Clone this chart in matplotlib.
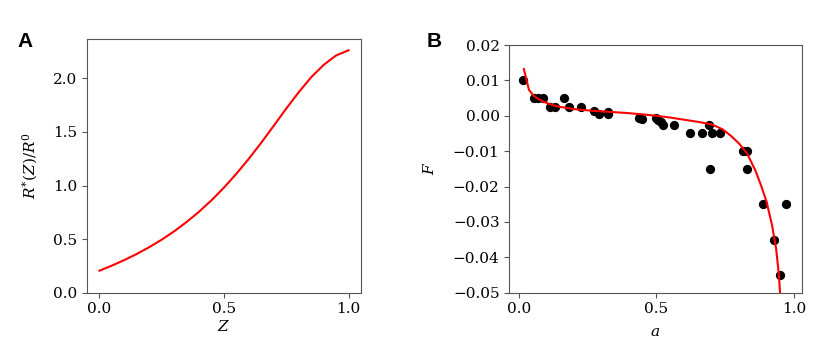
import matplotlib
matplotlib.use("Agg")
import matplotlib.pyplot as plt

# Panel A: R*(Z)/R0 curve
z_vals = [0.0, 0.05, 0.1, 0.15, 0.2, 0.25, 0.3, 0.35, 0.4, 0.45, 0.5,
          0.55, 0.6, 0.65, 0.7, 0.75, 0.8, 0.85, 0.9, 0.95, 1.0]
r_vals = [0.205, 0.253, 0.305, 0.362, 0.425, 0.495, 0.573, 0.660, 0.756, 0.863, 0.981,
          1.111, 1.251, 1.401, 1.559, 1.719, 1.871, 2.011, 2.126, 2.214, 2.262]

# Panel B: scatter data
a_pts = [0.015, 0.055, 0.069, 0.089, 0.114, 0.133, 0.166, 0.184, 0.226,
         0.273, 0.292, 0.323, 0.323, 0.438, 0.448, 0.498, 0.507, 0.516, 0.523,
         0.565, 0.623, 0.666, 0.690, 0.695, 0.701, 0.730, 0.816, 0.828, 0.831,
         0.889, 0.972, 0.926, 0.949]
f_pts = [0.010, 0.005, 0.005, 0.005, 0.0025, 0.0025, 0.005, 0.0025, 0.0025,
         0.0014, 0.0005, 0.001, 0.0004, -0.0006, -0.001, -0.0006, -0.0012, -0.0017, -0.0026,
         -0.0026, -0.005, -0.005, -0.0025, -0.015, -0.005, -0.005, -0.010, -0.010, -0.015,
         -0.025, -0.025, -0.035, -0.045]

# Panel B: fitted curve
a_fit = [0.019, 0.0375, 0.053, 0.07, 0.09, 0.12, 0.15, 0.2, 0.27, 0.33, 0.39, 0.45,
         0.5, 0.55, 0.6, 0.65, 0.7, 0.74, 0.77, 0.8, 0.83, 0.86, 0.88, 0.9, 0.92,
         0.935, 0.945, 0.951]
f_fit = [0.0132, 0.0073, 0.0058, 0.0048, 0.0040, 0.0031, 0.0025, 0.0019, 0.0014,
         0.0011, 0.0008, 0.0004, 0.0, -0.0005, -0.0011, -0.0017, -0.0024, -0.0038,
         -0.0056, -0.0078, -0.0107, -0.0155, -0.0196, -0.0242, -0.0308, -0.0375,
         -0.0448, -0.052]

plt.rcParams['font.family'] = 'DejaVu Serif'
plt.rcParams['mathtext.fontset'] = 'dejavuserif'
plt.rcParams['font.size'] = 11

fig = plt.figure(figsize=(8.3, 3.61), dpi=100)
W, H = 830, 361

def add_ax(l, r, t, b):
    return fig.add_axes([l / W, 1 - b / H, (r - l) / W, (b - t) / H])

spine_col = '#555555'

axA = add_ax(87, 361, 39.3, 292.7)
axA.plot(z_vals, r_vals, color='red', lw=1.5)
axA.set_ylim(bottom=0)
axA.set_xticks([0.0, 0.5, 1.0])
axA.set_yticks([0.0, 0.5, 1.0, 1.5, 2.0])
axA.set_xlabel(r'$Z$', labelpad=2)
axA.set_ylabel(r'$R^{*}(Z)/R^{0}$')

axB = add_ax(509.3, 801.7, 45, 292.7)
axB.plot(a_fit, f_fit, color='red', lw=1.5, zorder=3)
axB.scatter(a_pts, f_pts, s=32, color='black', zorder=2)
axB.set_xlim(-0.034, 1.028)
axB.set_ylim(-0.05, 0.02)
axB.set_xticks([0.0, 0.5, 1.0])
axB.set_yticks([0.02, 0.01, 0.0, -0.01, -0.02, -0.03, -0.04, -0.05])
axB.set_xlabel(r'$a$', labelpad=6)
axB.set_ylabel(r'$F$')

for ax in (axA, axB):
    for s in ax.spines.values():
        s.set_color(spine_col)
    ax.tick_params(color=spine_col)

axA.yaxis.set_label_coords((40 - 87) / (361 - 87), 0.5)
axB.yaxis.set_label_coords((437 - 509.3) / (801.7 - 509.3), 0.5)

fig.text(17 / W, 1 - 47 / H, 'A', fontsize=15, fontweight='bold', family='Liberation Sans')
fig.text(427 / W, 1 - 47 / H, 'B', fontsize=15, fontweight='bold', family='Liberation Sans')

fig.savefig('out.png', dpi=100)
